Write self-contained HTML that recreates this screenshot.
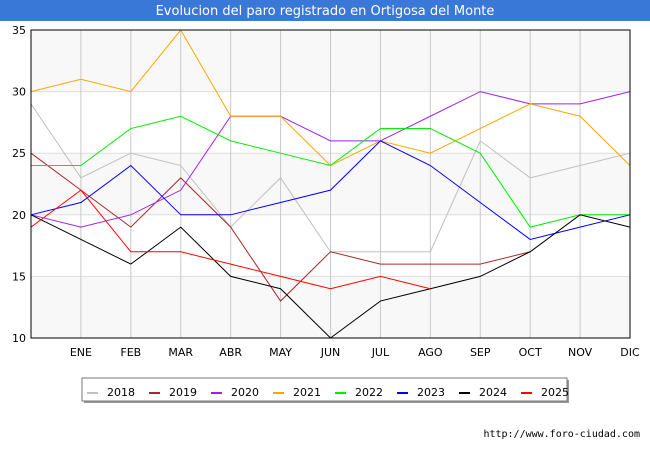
<!DOCTYPE html>
<html><head><meta charset="utf-8"><style>
body{margin:0;background:#fff;font-family:"Liberation Sans","DejaVu Sans",sans-serif}
</style></head><body>
<svg width="650" height="450" style="display:block">
<rect x="0" y="0" width="650" height="21" fill="#3a78d8"/>
<text x="325" y="15" text-anchor="middle" font-size="13" fill="#fff" font-family="DejaVu Sans, sans-serif">Evolucion del paro registrado en Ortigosa del Monte</text>
<g id="bands"></g><g id="grid"></g><g id="lines"></g>
<rect x="31" y="30" width="599" height="308" fill="none" stroke="#000"/>
<g id="ticks" font-family="DejaVu Sans, sans-serif" font-size="11"></g>
<rect x="84" y="380" width="485" height="23" fill="#999"/>
<rect x="82" y="378" width="485" height="23" fill="#fff" stroke="#777"/>
<g id="legend" font-family="DejaVu Sans, sans-serif" font-size="11"></g>
<text x="640" y="437" text-anchor="end" font-size="10" font-family="DejaVu Sans Mono, monospace" fill="#000">http://www.foro-ciudad.com</text>
</svg>
<script>
const months=["","ENE","FEB","MAR","ABR","MAY","JUN","JUL","AGO","SEP","OCT","NOV","DIC"];
const yTicks=[10,15,20,25,30,35];
const years=["2018","2019","2020","2021","2022","2023","2024","2025"];
const colors=["#c0c0c0","#a52a2a","#a020f0","#ffa500","#00ee00","#0000ff","#000000","#ff0000"];
const s2018=[29,23,25,24,19,23,17,17,17,26,23,24,25];
const s2019=[25,22,19,23,19,13,17,16,16,16,17];
const s2020=[20,19,20,22,28,28,26,26,28,30,29,29,30];
const s2021=[30,31,30,35,28,28,24,26,25,27,29,28,24];
const s2022=[24,24,27,28,26,25,24,27,27,25,19,20,20];
const s2023=[20,21,24,20,20,21,22,26,24,21,18,19,20];
const s2024=[20,18,16,19,15,14,10,13,14,15,17,20,19];
const s2025=[19,22,17,17,16,15,14,15,14];
const series=[s2018,s2019,s2020,s2021,s2022,s2023,s2024,s2025];
const NS="http://www.w3.org/2000/svg";
const X0=31,X1=630,Y0=338,Y1=30,ymin=10,ymax=35;
const xs=i=>X0+(X1-X0)*i/(months.length-1);
const ys=v=>Y0-(Y0-Y1)*(v-ymin)/(ymax-ymin);
function mk(t,a,p){const e=document.createElementNS(NS,t);for(const k in a)e.setAttribute(k,a[k]);document.getElementById(p).appendChild(e);return e;}
for(let i=0;i<yTicks.length-1;i++){
 const r=mk('rect',{x:X0,y:ys(yTicks[i+1]),width:X1-X0,height:ys(yTicks[i])-ys(yTicks[i+1]),fill:i%2==0?'#f8f8f8':'#ffffff'},'bands');
 
 
}
yTicks.forEach(v=>{
 const l=mk('line',{x1:X0,x2:X1,y1:ys(v),y2:ys(v),stroke:'#dddddd'},'grid');
 
 
 const t=mk('text',{x:X0-5,y:ys(v)+4,'text-anchor':'end'},'ticks');t.textContent=v;
 
 
});
months.forEach((m,i)=>{
 if(i>0){const l=mk('line',{x1:xs(i),x2:xs(i),y1:Y1,y2:Y0,stroke:'#c8c8c8'},'grid');
 
 }
 if(m){const t=mk('text',{x:xs(i),y:356,'text-anchor':'middle'},'ticks');t.textContent=m;
 
 }
});
series.forEach((s,k)=>{
 const p=mk('polyline',{points:s.map((v,i)=>xs(i)+','+ys(v)).join(' '),fill:'none',stroke:colors[k],'stroke-width':1},'lines');
 
 
});
years.forEach((y,k)=>{
 const lx=87+k*62;
 const l=mk('line',{x1:lx,x2:lx+11,y1:393,y2:393,stroke:colors[k],'stroke-width':2},'legend');
 
 
 const t=mk('text',{x:lx+20,y:396},'legend');t.textContent=y;
 
 
});
</script>
</body></html>
